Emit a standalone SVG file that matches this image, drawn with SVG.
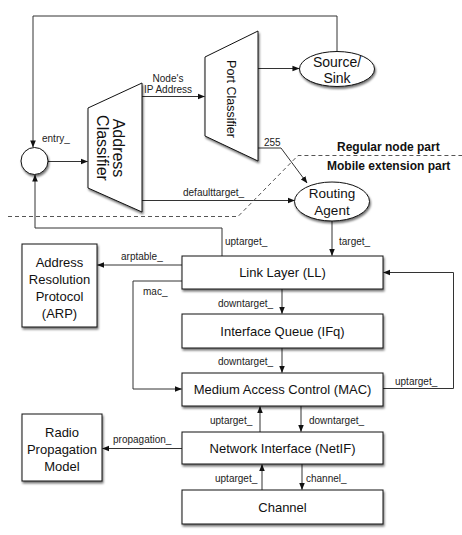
<svg xmlns="http://www.w3.org/2000/svg" width="462" height="535" viewBox="0 0 462 535">
<defs>
<filter id="sh" x="-20%" y="-20%" width="140%" height="150%">
<feDropShadow dx="1" dy="2" stdDeviation="1.3" flood-color="#000" flood-opacity="0.55"/>
</filter>
<marker id="ah" viewBox="0 0 8 8" refX="7.5" refY="4" markerWidth="7" markerHeight="7" markerUnits="userSpaceOnUse" orient="auto">
<path d="M0,0.8 L8,4 L0,7.2 Z" fill="#111"/>
</marker>
</defs>
<style>
.box{fill:#fff;stroke:#111;stroke-width:1;filter:url(#sh)}
.t{font-family:"Liberation Sans",Arial,sans-serif;font-size:13px;fill:#111;text-anchor:middle}
.lb{font-family:"Liberation Sans",Arial,sans-serif;font-size:10px;fill:#222}
.bd{font-family:"Liberation Sans",Arial,sans-serif;font-size:12px;font-weight:bold;fill:#111}
.c{fill:none;stroke:#333;stroke-width:1}
.ca{fill:none;stroke:#333;stroke-width:1;marker-end:url(#ah)}
.dash{fill:none;stroke:#555;stroke-width:1;stroke-dasharray:4,3}
</style>
<rect width="462" height="535" fill="#fff"/>

<g id="connectors">
<polyline class="ca" points="337,51.5 337,16 33,16 33,147"/>
<polyline class="ca" points="222,256 222,228 35,228 35,175"/>
<line class="ca" x1="48" y1="161.5" x2="87.5" y2="161.5"/>
<line class="ca" x1="142" y1="96.5" x2="204.5" y2="96.5"/>
<line class="ca" x1="258" y1="68.5" x2="299" y2="68.5"/>
<polyline class="ca" points="258,148 281,148 307,183"/>
<line class="ca" x1="142" y1="200.5" x2="294.5" y2="200.5"/>
<line class="ca" x1="332" y1="221" x2="332" y2="255.5"/>
<line class="ca" x1="182" y1="265" x2="97.5" y2="265"/>
<polyline class="ca" points="182,281 133,281 133,389 181.5,389"/>
<line class="ca" x1="282" y1="289" x2="282" y2="313.5"/>
<line class="ca" x1="282" y1="348" x2="282" y2="372.5"/>
<polyline class="ca" points="383,388.5 453.5,388.5 453.5,272.5 383.5,272.5"/>
<line class="ca" x1="260" y1="432" x2="260" y2="406.5"/>
<line class="ca" x1="301" y1="406" x2="301" y2="431.5"/>
<line class="ca" x1="262" y1="490" x2="262" y2="464.5"/>
<line class="ca" x1="302" y1="464" x2="302" y2="489.5"/>
<line class="ca" x1="182" y1="448.5" x2="102.5" y2="448.5"/>
</g>

<g id="divider">
<polyline class="dash" points="8,216.5 238,216.5 298,155.5 462,155.5"/>
<text class="bd" x="337" y="151">Regular node part</text>
<text class="bd" x="327" y="170">Mobile extension part</text>
</g>

<g id="labels">
<text class="lb" x="42" y="142">entry_</text>
<text class="lb" x="168" y="81.5" text-anchor="middle">Node's</text>
<text class="lb" x="168" y="93" text-anchor="middle">IP Address</text>
<text class="lb" x="264" y="145.5">255</text>
<text class="lb" x="183" y="196">defaulttarget_</text>
<text class="lb" x="225" y="245">uptarget_</text>
<text class="lb" x="339" y="245">target_</text>
<text class="lb" x="121" y="260">arptable_</text>
<text class="lb" x="143" y="295">mac_</text>
<text class="lb" x="218" y="306.5">downtarget_</text>
<text class="lb" x="218" y="365">downtarget_</text>
<text class="lb" x="395" y="384.5">uptarget_</text>
<text class="lb" x="210" y="423.5">uptarget_</text>
<text class="lb" x="309" y="423.5">downtarget_</text>
<text class="lb" x="113" y="442.5">propagation_</text>
<text class="lb" x="215" y="481.5">uptarget_</text>
<text class="lb" x="306" y="481.5">channel_</text>
</g>

<g id="entry">
<circle class="box" cx="34.5" cy="161" r="13.5"/>
</g>

<g id="address-classifier">
<polygon class="box" points="88,108 142,83 142,212 88,188"/>
<text class="t" style="font-size:16px" transform="translate(110,148) rotate(90)" x="0" y="-2.5">Address</text>
<text class="t" style="font-size:16px" transform="translate(110,148) rotate(90)" x="0" y="13.5">Classifier</text>
</g>

<g id="port-classifier">
<polygon class="box" points="205,57 258,31 258,161 205,136"/>
<text class="t" style="font-size:12.5px" transform="translate(231,99) rotate(90)" x="0" y="4.5">Port Classifier</text>
</g>

<g id="source-sink">
<ellipse class="box" cx="337" cy="69" rx="37.5" ry="17.5"/>
<text class="t" style="font-size:14px" x="337" y="66.5">Source/</text>
<text class="t" style="font-size:14px" x="337" y="83">Sink</text>
</g>

<g id="routing-agent">
<ellipse class="box" cx="332" cy="201.5" rx="37.5" ry="19.5"/>
<text class="t" style="font-size:13.5px" x="332" y="198">Routing</text>
<text class="t" style="font-size:13.5px" x="332" y="215">Agent</text>
</g>

<g id="arp">
<rect class="box" x="22" y="244" width="75" height="83"/>
<text class="t" x="59.5" y="267">Address</text>
<text class="t" x="59.5" y="284">Resolution</text>
<text class="t" x="59.5" y="301">Protocol</text>
<text class="t" x="59.5" y="318">(ARP)</text>
</g>

<g id="radio">
<rect class="box" x="22" y="414" width="80" height="67"/>
<text class="t" x="62" y="437">Radio</text>
<text class="t" x="62" y="454">Propagation</text>
<text class="t" x="62" y="471">Model</text>
</g>

<g id="link-layer">
<rect class="box" x="182" y="256" width="201" height="33"/>
<text class="t" x="282.5" y="277">Link Layer (LL)</text>
</g>

<g id="ifq">
<rect class="box" x="182" y="314" width="201" height="34"/>
<text class="t" x="282.5" y="335.5">Interface Queue (IFq)</text>
</g>

<g id="mac">
<rect class="box" x="182" y="373" width="201" height="33"/>
<text class="t" x="282.5" y="394">Medium Access Control (MAC)</text>
</g>

<g id="netif">
<rect class="box" x="182" y="432" width="201" height="32"/>
<text class="t" x="282.5" y="452.5">Network Interface (NetIF)</text>
</g>

<g id="channel">
<rect class="box" x="182" y="490" width="201" height="34"/>
<text class="t" x="282.5" y="511.5">Channel</text>
</g>
</svg>
